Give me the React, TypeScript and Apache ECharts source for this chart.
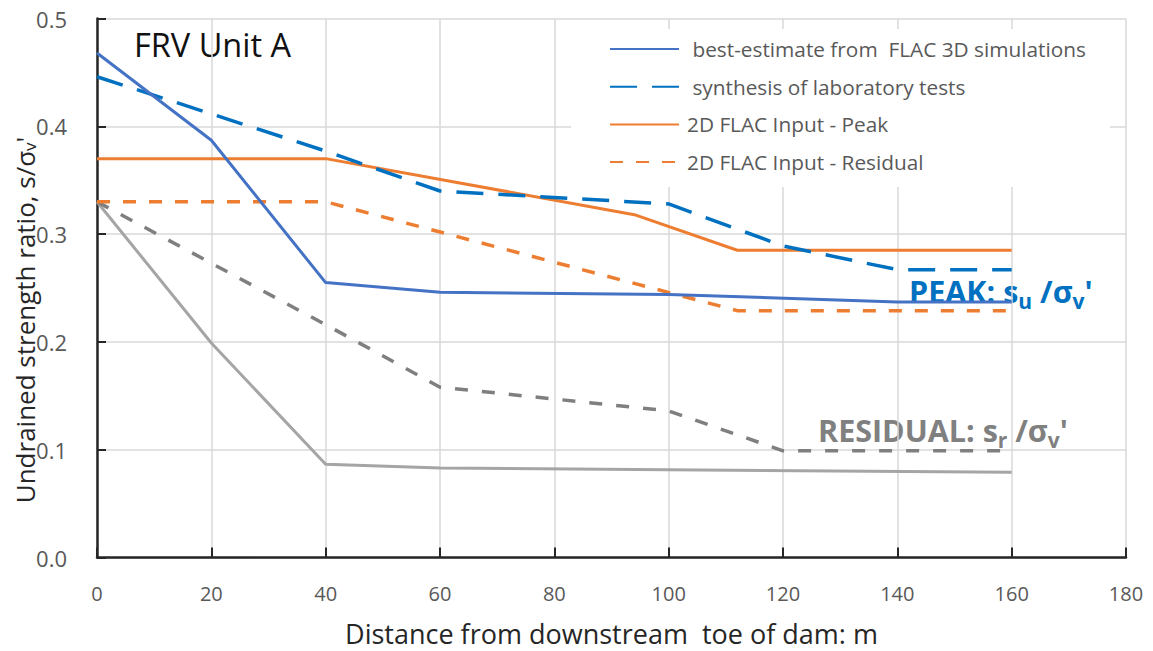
import React, { useEffect, useRef } from 'react';
import * as echarts from 'echarts';

// ---- data ----
const xTickValues = [0, 20, 40, 60, 80, 100, 120, 140, 160, 180];
const yTickValues = [0, 0.1, 0.2, 0.3, 0.4, 0.5];

const bestEstX = [0, 20, 40, 60, 100, 140, 160];
const bestEstY = [0.468, 0.387, 0.255, 0.246, 0.244, 0.237, 0.237];

const labX = [0, 40, 60, 100, 120, 140, 160];
const labY = [0.446, 0.377, 0.34, 0.328, 0.289, 0.267, 0.267];

const peak2dX = [0, 40, 94, 112, 160];
const peak2dY = [0.37, 0.37, 0.318, 0.285, 0.285];

const resid2dX = [0, 40, 112, 160];
const resid2dY = [0.33, 0.33, 0.229, 0.229];

const resid3dDashX = [0, 40, 60, 100, 120, 160];
const resid3dDashY = [0.33, 0.216, 0.158, 0.136, 0.099, 0.099];

const resid3dSolidX = [0, 20, 40, 60, 160];
const resid3dSolidY = [0.33, 0.199, 0.0865, 0.083, 0.079];

const legendNames = [
  ' best-estimate from  FLAC 3D simulations',
  ' synthesis of laboratory tests',
  '2D FLAC Input - Peak',
  '2D FLAC Input - Residual',
];

const FONT = '"Open Sans", "DejaVu Sans", sans-serif';

function pairs(xs: number[], ys: number[]) {
  return xs.map((x, i) => [x, ys[i]]);
}

function ratioRich(color: string) {
  return {
    a: { fontFamily: FONT, fontSize: 30.5, fontWeight: 'bold', fill: color, lineHeight: 36, padding: [0, 0, 7, 0], verticalAlign: 'top' },
    b: { fontFamily: FONT, fontSize: 21, fontWeight: 'bold', fill: color, lineHeight: 14, verticalAlign: 'bottom' },
  };
}

export default function App() {
  const ref = useRef<HTMLDivElement>(null);

  useEffect(() => {
    const chart = echarts.init(ref.current!, null, { renderer: 'svg' });
    const line = (name: string, data: number[][], color: string, width: number, type: any) => ({
      name,
      type: 'line',
      data,
      symbol: 'none',
      smooth: false,
      lineStyle: { color, width, type },
      itemStyle: { color },
    });

    chart.setOption({
      animation: false,
      backgroundColor: '#ffffff',
      grid: { left: 97, right: 27, top: 18.5, bottom: 93.5, outerBoundsMode: 'none' },
      xAxis: {
        type: 'value',
        min: 0,
        max: 180,
        interval: 20,
        name: 'Distance from downstream  toe of dam: m',
        nameLocation: 'middle',
        nameGap: 62,
        nameTextStyle: { fontFamily: FONT, fontSize: 27, color: '#262626' },
        axisLine: { show: true, lineStyle: { color: '#262626', width: 2.5 } },
        axisTick: { show: true, inside: true, length: 10, lineStyle: { color: '#262626', width: 2 } },
        axisLabel: {
          margin: 26,
          fontFamily: FONT,
          fontSize: 20,
          color: '#595959',
          formatter: (v: number) => (xTickValues.includes(v) ? String(v) : ''),
        },
        splitLine: { show: true, lineStyle: { color: '#d9d9d9', width: 1.5 } },
      },
      yAxis: {
        type: 'value',
        min: 0,
        max: 0.5,
        interval: 0.1,
        axisLine: { show: true, lineStyle: { color: '#262626', width: 2.5 } },
        axisTick: { show: true, inside: true, length: 9, lineStyle: { color: '#262626', width: 2 } },
        axisLabel: {
          margin: 30,
          fontFamily: FONT,
          fontSize: 22,
          color: '#595959',
          formatter: (v: number) => {
            const t = yTickValues.find((y) => Math.abs(y - v) < 1e-9);
            return t === undefined ? '' : t.toFixed(1);
          },
        },
        splitLine: { show: true, lineStyle: { color: '#d9d9d9', width: 1.5 } },
      },
      legend: {
        show: true,
        orient: 'vertical',
        left: 571,
        top: 29,
        padding: [9, 24, 14, 38],
        backgroundColor: '#ffffff',
        itemWidth: 69,
        itemHeight: 14,
        itemGap: 15.7,
        itemStyle: { opacity: 0 },
        data: legendNames,
        textStyle: { fontFamily: FONT, fontSize: 20.8, color: '#595959', lineHeight: 22, padding: [0, 0, 0, 3] },
      },
      series: [
        line('resid3dSolid', pairs(resid3dSolidX, resid3dSolidY), '#a5a5a5', 3, 'solid'),
        line('resid3dDash', pairs(resid3dDashX, resid3dDashY), '#7f7f7f', 3.5, [13, 14]),
        line(legendNames[3], pairs(resid2dX, resid2dY), '#ed7d31', 3.5, [13, 13]),
        line(legendNames[2], pairs(peak2dX, peak2dY), '#ed7d31', 3, 'solid'),
        line(legendNames[1], pairs(labX, labY), '#0070c0', 3.5, [27, 15]),
        line(legendNames[0], pairs(bestEstX, bestEstY), '#4472c4', 3, 'solid'),
      ],
      graphic: [
        {
          type: 'text',
          left: 134,
          top: 28,
          style: { text: 'FRV Unit A', fontFamily: FONT, fontSize: 32.5, fill: '#111111' },
        },
        {
          type: 'text',
          x: 22,
          y: 320,
          rotation: Math.PI / 2,
          style: {
            text: "{a|Undrained strength ratio, s/σ}{b|v}{a|'}",
            align: 'center',
            verticalAlign: 'middle',
            rich: {
              a: { fontFamily: FONT, fontSize: 26, fill: '#262626', lineHeight: 32, verticalAlign: 'bottom' },
              b: { fontFamily: FONT, fontSize: 17, fill: '#262626', lineHeight: 16, verticalAlign: 'bottom' },
            },
          },
        },
        {
          type: 'text',
          x: 909,
          y: 275,
          style: {
            text: "{a|PEAK: s}{b|u}{a| /σ}{b|v}{a|'}",
            rich: ratioRich('#0070c0'),
          },
        },
        {
          type: 'text',
          x: 818,
          y: 414,
          style: {
            text: "{a|RESIDUAL: s}{b|r}{a| /σ}{b|v}{a|'}",
            rich: ratioRich('#808080'),
          },
        },
      ],
    });

    return () => chart.dispose();
  }, []);

  return (
    <div
      ref={ref}
      style={{ position: 'fixed', left: 0, top: 0, width: 1153, height: 651, background: '#ffffff' }}
    />
  );
}
